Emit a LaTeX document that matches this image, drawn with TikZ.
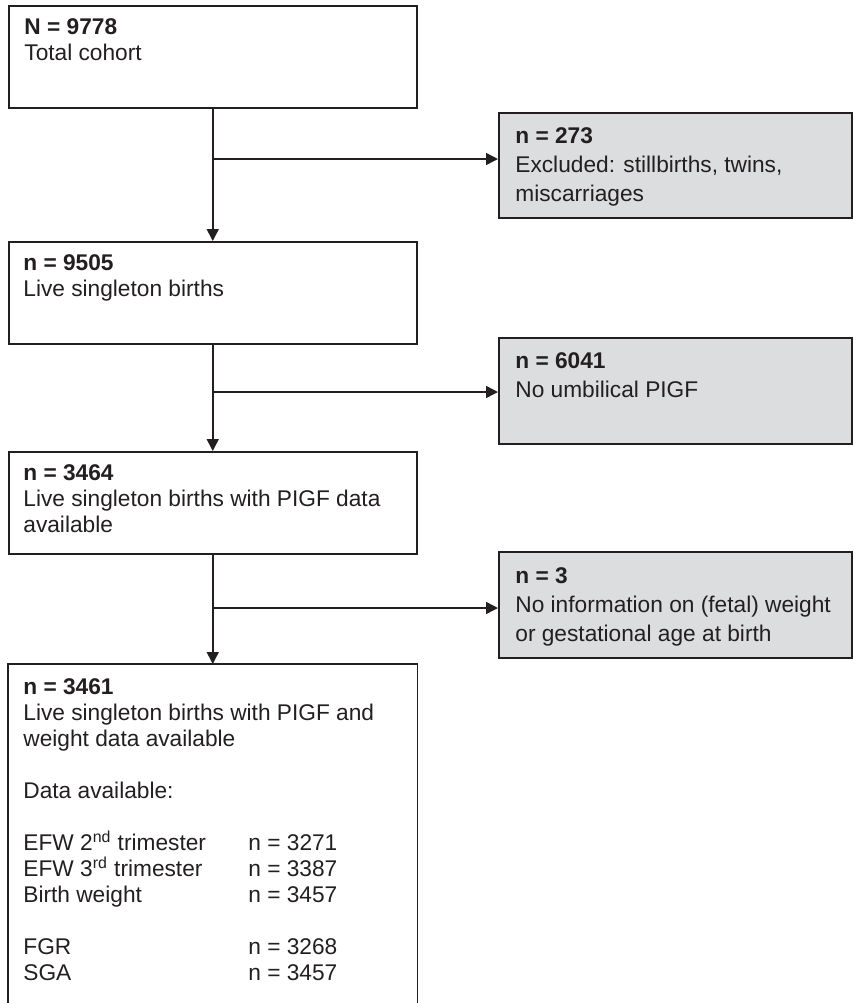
\documentclass[tikz,border=0pt]{standalone}
\usepackage{fontspec}
\setmainfont{Liberation Sans}
\usetikzlibrary{arrows.meta}
\definecolor{inkline}{HTML}{231F20}
\definecolor{exclgray}{HTML}{DCDDDE}

\begin{document}
\begin{tikzpicture}[x=0.5pt,y=-0.5pt]
            \tikzset{stage/.style = {shape=rectangle, draw=inkline, line width=0.75pt, anchor=north west, minimum width=204pt, minimum height=51pt, inner sep=0pt}}
            \tikzset{excluded/.style = {stage, fill=exclgray, minimum width=176.5pt}}
            \tikzset{boxtext/.style = {anchor=north west, align=left, inner sep=0pt, text=inkline, font=\fontsize{11.35pt}{13pt}\selectfont}}
            \tikzset{sidetext/.style = {boxtext, font=\fontsize{11.35pt}{14.5pt}\selectfont}}
            \tikzset{flow/.style = {draw=inkline, line width=0.75pt, -{Triangle[length=6pt,width=6pt]}}}
            \useasboundingbox (0,0) rectangle (853,1003);
            % boxes
            \node[stage] (cohort) at (8,5) {};
            \node[stage] (live) at (8,241) {};
            \node[stage] (pigf) at (8,451) {};
            \node[stage, draw=none, minimum height=169.5pt] (weight) at (8,664) {};
            \node[excluded, minimum height=52.5pt] (ex1) at (498,112) {};
            \node[excluded, minimum height=53pt] (ex2) at (498,337) {};
            \node[excluded, minimum height=53pt] (ex3) at (498,551) {};
            \draw[inkline, line width=0.75pt] (weight.south west) -- (weight.north west) -- (weight.north east) -- (weight.south east);
            % texts
            \node[boxtext] (cohort-t) at (24,18.5) {\textbf{N = 9778}\\Total cohort};
            \node[boxtext] (live-t) at (23,254) {\textbf{n = 9505}\\Live singleton births};
            \node[boxtext] (pigf-t) at (23,464.5) {\textbf{n = 3464}\\Live singleton births with PIGF data\\available};
            \node[boxtext] (weight-t) at (23,678) {\textbf{n = 3461}\\Live singleton births with PIGF and\\weight data available\\[13pt]
                Data available:\\[13pt]
                \makebox[112.5pt][l]{EFW 2\textsuperscript{nd} trimester}n = 3271\\
                \makebox[112.5pt][l]{EFW 3\textsuperscript{rd} trimester}n = 3387\\
                \makebox[112.5pt][l]{Birth weight}n = 3457\\[13pt]
                \makebox[112.5pt][l]{FGR}n = 3268\\
                \makebox[112.5pt][l]{SGA}n = 3457};
            \node[sidetext] (ex1-t) at (515,127.5) {\textbf{n = 273}\\Excluded: stillbirths, twins,\\miscarriages};
            \node[sidetext] (ex2-t) at (515,352.5) {\textbf{n = 6041}\\No umbilical PIGF};
            \node[sidetext] (ex3-t) at (515,567) {\textbf{n = 3}\\No information on (fetal) weight\\or gestational age at birth};
            % connectors
            \coordinate (j1) at (212,159);
            \coordinate (j2) at (212,392);
            \coordinate (j3) at (212,608);
            \draw[flow] (cohort.south) -- (live.north);
            \draw[flow] (live.south) -- (pigf.north);
            \draw[flow] (pigf.south) -- (weight.north);
            \draw[flow] (j1) -- (j1 -| ex1.west);
            \draw[flow] (j2) -- (j2 -| ex2.west);
            \draw[flow] (j3) -- (j3 -| ex3.west);
        \end{tikzpicture}
\end{document}
